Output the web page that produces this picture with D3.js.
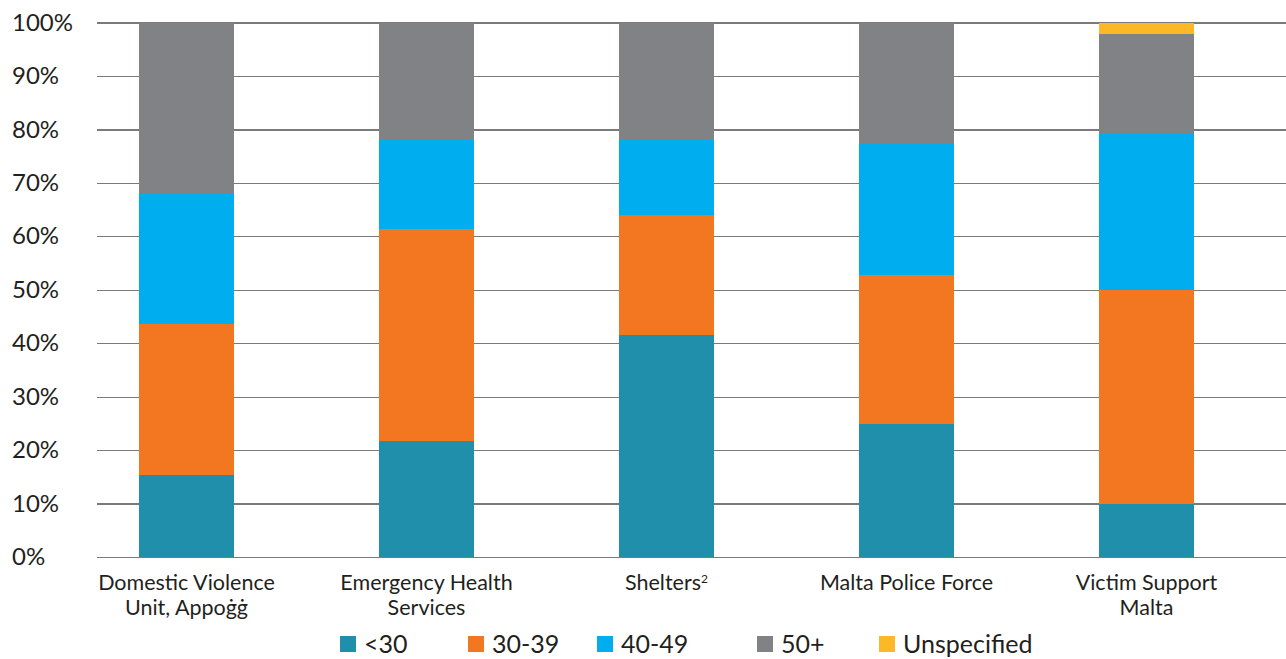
<!DOCTYPE html>
<html><head><meta charset="utf-8">
<script src="https://cdn.jsdelivr.net/npm/d3@7"></script>
<style>
body{margin:0;background:#fff;}
text{font-family:Lato,"Open Sans",sans-serif;fill:#231f20;}
</style></head>
<body><svg id="chart" width="1286" height="659"></svg>
<script>
const categories = [["Domestic Violence","Unit, Appoġġ"],["Emergency Health","Services"],["Shelters"],["Malta Police Force"],["Victim Support","Malta"]];
const seriesNames = ["<30","30-39","40-49","50+","Unspecified"];
const under30 = [15.3, 21.7, 41.5, 24.9, 10.0];
const age30to39 = [28.2, 39.6, 22.4, 27.8, 39.9];
const age40to49 = [24.5, 16.8, 14.2, 24.5, 29.2];
const over50 = [32.0, 21.9, 21.9, 22.8, 18.7];
const unspecified = [0, 0, 0, 0, 2.2];
const yTicks = [0,10,20,30,40,50,60,70,80,90,100];
const colors = ["#1f8fab","#f37721","#00aeef","#808285","#fdb827"];

const svg = d3.select("#chart");
const seriesVals = [under30, age30to39, age40to49, over50, unspecified];
const rows = categories.map((c,i)=>{const o={key:i}; seriesNames.forEach((s,j)=>o[s]=seriesVals[j][i]); return o;});
const stack = d3.stack().keys(seriesNames)(rows);

const x = d3.scaleBand().domain(d3.range(categories.length)).range([66.5,1266.5]).paddingInner(0.604).paddingOuter(0.302);
const y = d3.scaleLinear().domain([0,100]).range([557,22.5]);

// gridlines & tick labels
const gx = 97;
const yAxis = d3.axisLeft(y).tickValues(yTicks).tickFormat(d=>d+"%").tickSize(-(1286-gx)).tickPadding(0);
const ga = svg.append("g").attr("transform",`translate(${gx},0)`).call(yAxis);
ga.select(".domain").remove();
ga.selectAll(".tick line").attr("stroke","#7a7a7a").attr("stroke-width",1.2).attr("shape-rendering","crispEdges");
ga.selectAll(".tick text").attr("x",12-gx).attr("text-anchor","start").attr("font-size",24).attr("fill","#231f20").attr("font-family","Lato");

// bars
svg.append("g").selectAll("g").data(stack).join("g")
  .attr("fill",(d,i)=>colors[i])
  .selectAll("rect").data(d=>d).join("rect")
  .attr("x",(d,i)=>x(i))
  .attr("width",x.bandwidth())
  .attr("y",d=>y(d[1]))
  .attr("height",d=>y(d[0])-y(d[1]))
  .attr("shape-rendering","crispEdges");

// category labels
const cl = svg.append("g").selectAll("text").data(categories).join("text")
  .attr("text-anchor","middle").attr("font-size",21.5)
  .attr("x",(d,i)=>x(i)+x.bandwidth()/2).attr("y",590);
cl.each(function(d,i){
  const t=d3.select(this);
  d.forEach((line,k)=>{
    t.append("tspan").attr("x",x(i)+x.bandwidth()/2).attr("dy",k===0?0:25).text(line);
  });
  if(i===2){ t.append("tspan").attr("font-size",12).attr("baseline-shift","super").text("2"); }
});

// legend
const legendX = [340, 468, 597, 757, 879];
const lg = svg.append("g").selectAll("g").data(seriesNames).join("g")
  .attr("transform",(d,i)=>`translate(${legendX[i]},636)`);
lg.append("rect").attr("width",16).attr("height",16).attr("fill",(d,i)=>colors[i]);
lg.append("text").attr("x",24).attr("y",17).attr("font-size",25).text(d=>d);
</script>
</body></html>
